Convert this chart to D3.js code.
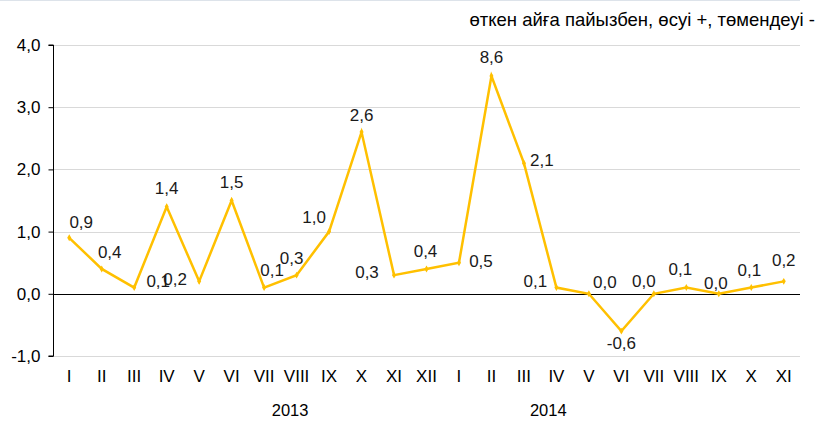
<!DOCTYPE html>
<html>
<head>
<meta charset="utf-8">
<script src="https://cdn.jsdelivr.net/npm/d3@7"></script>
<style>
  body { margin: 0; background: #fff; }
  svg { display: block; font-family: "Liberation Sans", Arial, sans-serif; }
</style>
</head>
<body>
<svg width="820" height="421"></svg>
<script>
const months = ['I', 'II', 'III', 'IV', 'V', 'VI', 'VII', 'VIII', 'IX', 'X', 'XI', 'XII',
  'I', 'II', 'III', 'IV', 'V', 'VI', 'VII', 'VIII', 'IX', 'X', 'XI'];
const years = ['2013', '2014'];
// plotted values (II 2014 is drawn cut at 3.5, its label says 8,6)
const values = [0.9, 0.4, 0.1, 1.4, 0.2, 1.5, 0.1, 0.3, 1.0, 2.6, 0.3, 0.4,
  0.5, 3.5, 2.1, 0.1, 0.0, -0.6, 0.0, 0.1, 0.0, 0.1, 0.2];
const valueLabels = ['0,9', '0,4', '0,1', '1,4', '0,2', '1,5', '0,1', '0,3', '1,0', '2,6', '0,3', '0,4',
  '0,5', '8,6', '2,1', '0,1', '0,0', '-0,6', '0,0', '0,1', '0,0', '0,1', '0,2'];
const yTicks = [-1, 0, 1, 2, 3, 4];
const title = 'өткен айға пайызбен, өсуі +, төмендеуі -';

// layout: where the year labels sit (in month-index units) and label offsets [dx, dy]
const yearLabelPos = [6.8, 14.75];
const labelOffsets = [[12, -16], [8, -17], [24, -7], [0, -19], [-24, -2], [0, -18], [8, -18], [-5, -17],
  [-15, -15], [0, -17], [-27, -3], [-1, -18], [22, -2], [0, -19], [18, -3], [-21, -7], [16, -12],
  [0, 12], [-10, -13], [-6, -19], [-3, -11], [-2, -18], [0, -21]];

const svg = d3.select('svg');
const left = 53, right = 800;

const x = d3.scaleBand()
  .domain(d3.range(months.length))
  .range([left, right]);
const cx = i => x(i) + x.bandwidth() / 2;
const xi = d3.scaleLinear()
  .domain([0, months.length - 1])
  .range([cx(0), cx(months.length - 1)]);

const y = d3.scaleLinear()
  .domain([-1, 4])
  .range([356, 45]);

// top border line
svg.append('line')
  .attr('x1', 0).attr('x2', right).attr('y1', 0.5).attr('y2', 0.5)
  .attr('stroke', '#dde3ea');

// grid
svg.append('g')
  .selectAll('line')
  .data(yTicks.filter(d => d !== 0))
  .join('line')
  .attr('x1', left).attr('x2', right)
  .attr('y1', d => Math.round(y(d)) + 0.5).attr('y2', d => Math.round(y(d)) + 0.5)
  .attr('stroke', '#d9d9d9');

// y axis
const yAxis = svg.append('g')
  .attr('transform', `translate(${left + 0.5},0)`)
  .call(d3.axisLeft(y).tickValues(yTicks).tickSize(5).tickPadding(8)
    .tickFormat(d => d3.format('.1f')(d).replace('.', ',').replace('−', '-')));
yAxis.select('.domain').attr('stroke', '#000').attr('d', `M-5,${y(4)}H0V${y(-1)}H-5`);
yAxis.selectAll('.tick line').attr('stroke', '#000');
yAxis.selectAll('.tick text').attr('font-size', 17).attr('fill', '#000')
  .attr('font-family', '"Liberation Sans", Arial, sans-serif');

// zero line
svg.append('line')
  .attr('x1', left).attr('x2', right)
  .attr('y1', Math.round(y(0)) + 0.5).attr('y2', Math.round(y(0)) + 0.5)
  .attr('stroke', '#000');

// month labels
svg.append('g')
  .selectAll('text')
  .data(months)
  .join('text')
  .attr('x', (d, i) => cx(i))
  .attr('y', 382)
  .attr('text-anchor', 'middle')
  .attr('font-size', 17)
  .text(d => d);

// year labels
svg.append('g')
  .selectAll('text')
  .data(years)
  .join('text')
  .attr('x', (d, i) => xi(yearLabelPos[i]))
  .attr('y', 416)
  .attr('text-anchor', 'middle')
  .attr('font-size', 16.5)
  .text(d => d);

// line
const line = d3.line()
  .x((d, i) => cx(i))
  .y(d => y(d));

svg.append('path')
  .datum(values)
  .attr('d', line)
  .attr('fill', 'none')
  .attr('stroke', '#ffc000')
  .attr('stroke-width', 2.5);

svg.append('g')
  .selectAll('path')
  .data(values)
  .join('path')
  .attr('transform', (d, i) => `translate(${cx(i)},${y(d)})`)
  .attr('d', d3.symbol(d3.symbolDiamond, 14))
  .attr('fill', '#ffc000');

// value labels
svg.append('g')
  .selectAll('text')
  .data(valueLabels)
  .join('text')
  .attr('x', (d, i) => cx(i) + labelOffsets[i][0])
  .attr('y', (d, i) => y(values[i]) + labelOffsets[i][1])
  .attr('dy', '0.35em')
  .attr('text-anchor', 'middle')
  .attr('font-size', 17)
  .attr('fill', '#1a1a1a')
  .text(d => d);

// title
svg.append('text')
  .attr('x', 815)
  .attr('y', 26)
  .attr('text-anchor', 'end')
  .attr('font-size', 18.5)
  .text(title);
</script>
</body>
</html>
